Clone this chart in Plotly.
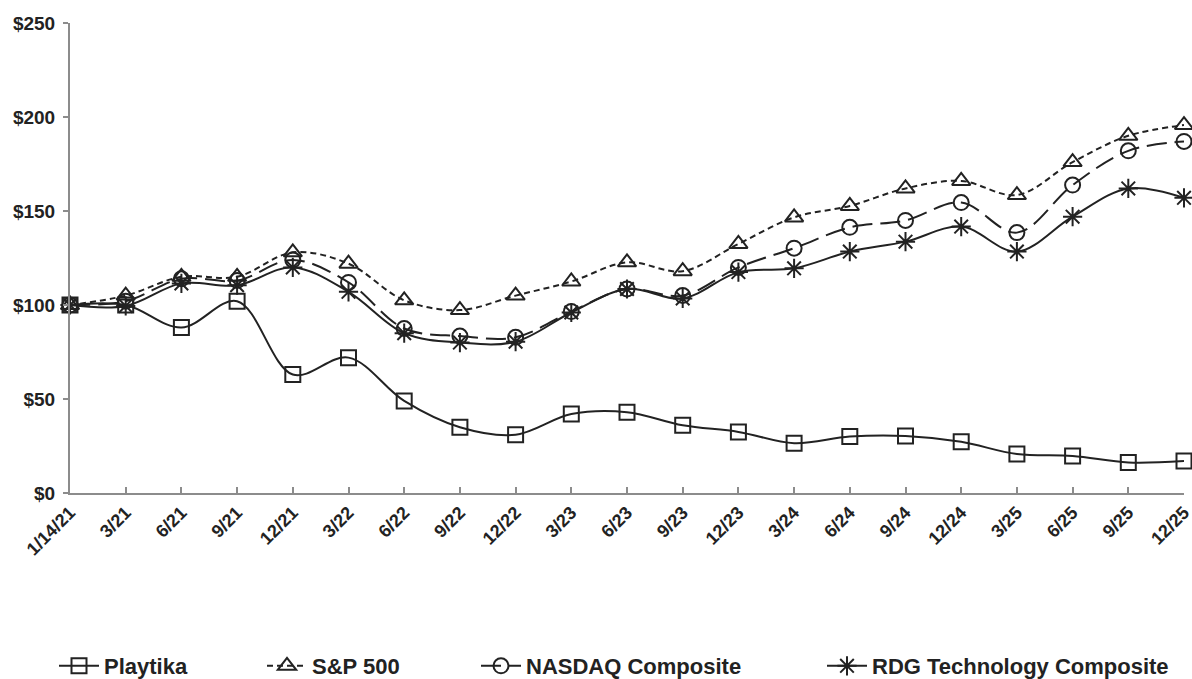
import plotly.graph_objects as go

dates = ["1/14/21", "3/21", "6/21", "9/21", "12/21", "3/22", "6/22", "9/22", "12/22",
         "3/23", "6/23", "9/23", "12/23", "3/24", "6/24", "9/24", "12/24",
         "3/25", "6/25", "9/25", "12/25"]

playtika = [100, 100, 88, 102, 63, 72, 49, 35, 31, 42, 43, 36, 32.5, 26.5, 30, 30.3, 27.2,
            20.7, 19.7, 16.2, 17]
sp500 = [100, 105, 115, 115, 128, 122, 102.5, 97.3, 105, 112.5, 122.7, 118, 132.5, 146.6,
         152.7, 162, 166, 158.5, 176, 190, 195.7]
nasdaq = [100, 102, 114, 113, 124, 112, 87.5, 83.5, 82.8, 96.5, 108.5, 105, 120, 130.2,
          141.3, 145, 154.5, 138.5, 163.8, 182, 187]
rdg = [100, 99.5, 111.5, 110.5, 120, 107, 85, 80, 80.5, 96, 108.5, 103.5, 117.5, 119.5,
       128.4, 133.7, 141.7, 128.4, 147, 162, 157]

y_ticks = [0, 50, 100, 150, 200, 250]
y_tick_labels = ["$0", "$50", "$100", "$150", "$200", "$250"]

series_names = ["Playtika", "S&P 500", "NASDAQ Composite", "RDG Technology Composite"]

INK = "#222222"
AXIS = "#8c8c8c"
FONT = "Liberation Sans, Arial, sans-serif"

styles = [
    dict(dash="solid", symbol="square-open", size=15),
    dict(dash="6px,4px", symbol="triangle-up-open", size=16),
    dict(dash="20px,8px", symbol="circle-open", size=15),
    dict(dash="solid", symbol="asterisk-open", size=16),
]
legend_ids = ["legend", "legend2", "legend3", "legend4"]
legend_left_px = [54, 262, 476, 822]

fig = go.Figure()
for name, vals, st, lg in zip(series_names, [playtika, sp500, nasdaq, rdg], styles, legend_ids):
    fig.add_trace(go.Scatter(
        x=dates, y=vals, name=name, mode="lines+markers",
        line=dict(color=INK, width=2, dash=st["dash"], shape="spline", smoothing=1),
        marker=dict(symbol=st["symbol"], size=st["size"], color=INK,
                    line=dict(color=INK, width=2)),
        cliponaxis=False, legend=lg,
    ))

W, H = 1192, 679
legend_common = dict(orientation="h", xref="container", yref="container",
                     yanchor="middle", y=1 - 666 / H, xanchor="left",
                     font=dict(family=FONT, size=22, color=INK, weight="bold"),
                     bgcolor="rgba(0,0,0,0)", itemwidth=40)
layout_legends = {}
for lg, lx in zip(legend_ids, legend_left_px):
    layout_legends[lg] = dict(legend_common, x=lx / W)

fig.update_layout(
    width=W, height=H,
    margin=dict(l=70, r=8, t=23, b=186, autoexpand=False),
    paper_bgcolor="white", plot_bgcolor="white",
    showlegend=True,
    font=dict(family=FONT, color=INK),
    **layout_legends,
)

fig.update_xaxes(
    type="category", range=[0, 20], automargin=False,
    showgrid=False, zeroline=False,
    showline=True, linecolor=AXIS, linewidth=2,
    ticks="inside", ticklen=6, tickcolor=AXIS, tickwidth=2,
    tickangle=-45,
    tickfont=dict(family=FONT, size=18, color=INK, weight="bold"),
)
fig.update_yaxes(
    range=[0, 250], tickmode="array", tickvals=y_ticks, ticktext=y_tick_labels,
    automargin=False, ticklabelstandoff=4,
    showgrid=False, zeroline=False,
    showline=True, linecolor=AXIS, linewidth=2,
    ticks="outside", ticklen=5, tickcolor=AXIS, tickwidth=2,
    tickfont=dict(family=FONT, size=19, color=INK, weight="bold"),
)

fig.write_html(
    "out.html",
    config={"displayModeBar": False},
    post_script="document.body.style.margin='0';document.body.style.overflow='hidden';",
)
